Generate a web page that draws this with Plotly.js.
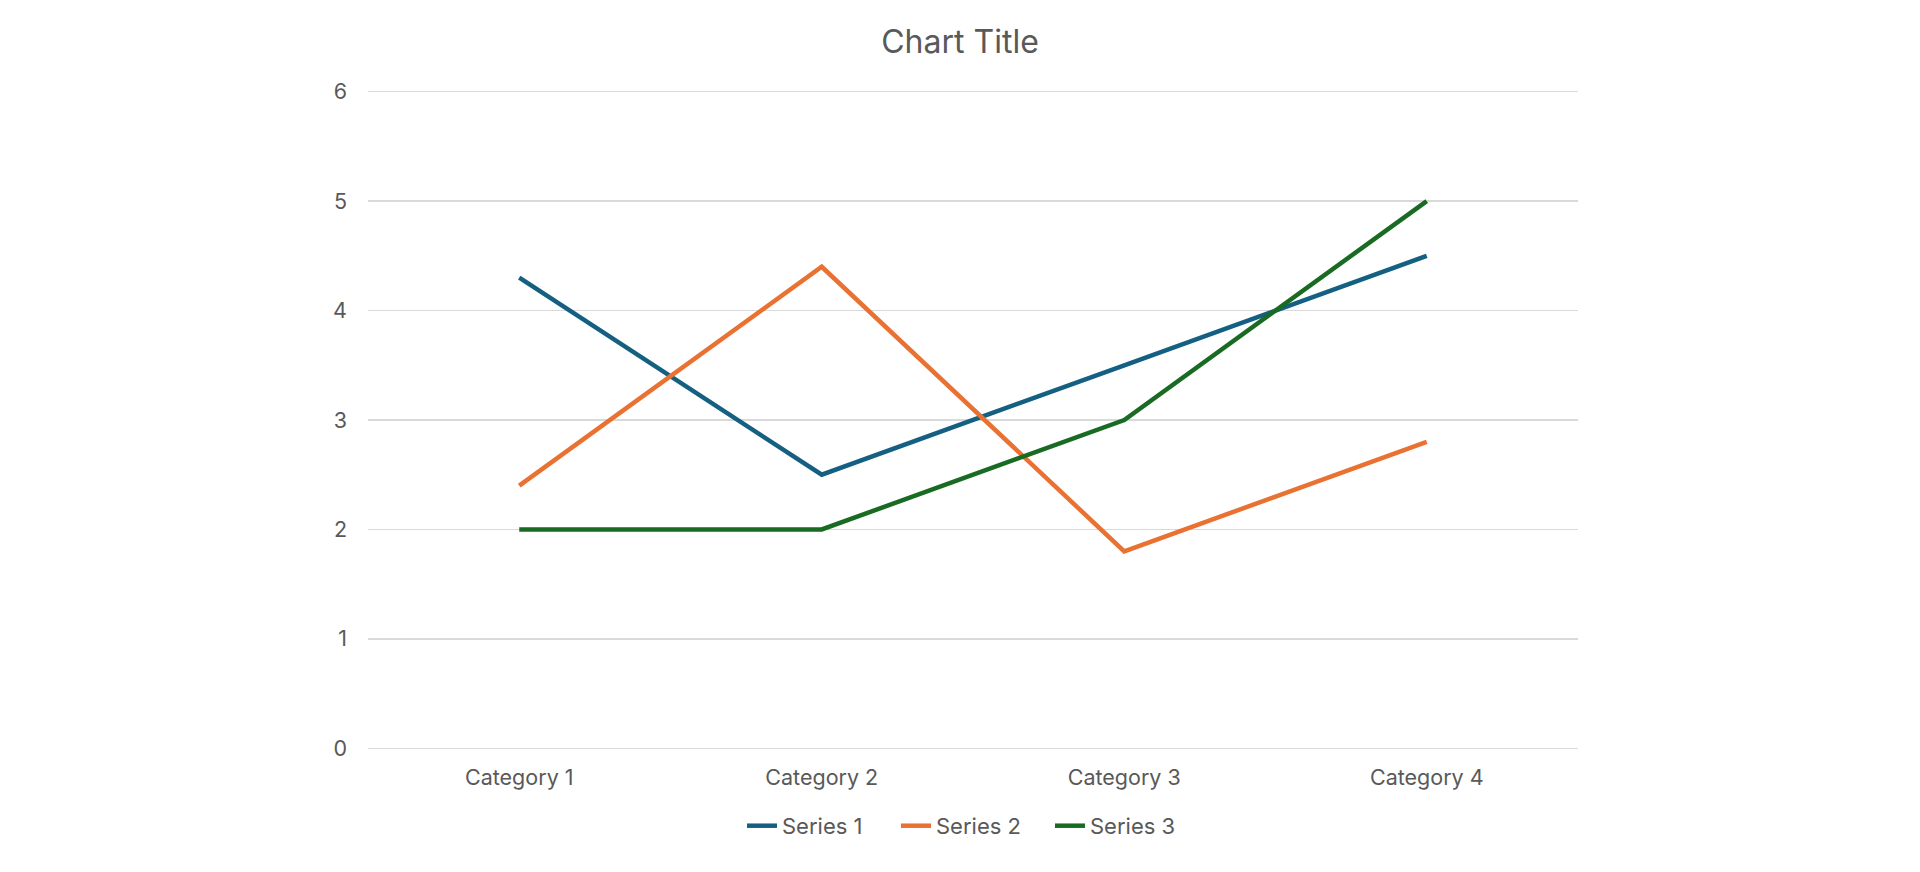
<!DOCTYPE html>
<html>
<head>
<meta charset="utf-8">
<script src="https://cdn.plot.ly/plotly-3.0.1.min.js"></script>
<style>html,body{margin:0;padding:0;background:#fff;}#chart{width:1920px;height:872px;}</style>
</head>
<body>
<div id="chart"></div>
<script>
const categories = ["Category 1", "Category 2", "Category 3", "Category 4"];
const seriesNames = ["Series 1", "Series 2", "Series 3"];
const series1 = [4.3, 2.5, 3.5, 4.5];
const series2 = [2.4, 4.4, 1.8, 2.8];
const series3 = [2, 2, 3, 5];
const yTicks = [0, 1, 2, 3, 4, 5, 6];

const colors = ["#156082", "#E97132", "#196B24"];
const allSeries = [series1, series2, series3];
const font = "Inter, 'Open Sans', sans-serif";

const traces = allSeries.map((vals, i) => ({
  type: "scatter",
  mode: "lines",
  x: categories,
  y: vals,
  name: seriesNames[i],
  line: {color: colors[i], width: 4.5},
  cliponaxis: false
}));

const layout = {
  width: 1920, height: 872,
  paper_bgcolor: "#fff", plot_bgcolor: "#fff",
  font: {family: font, color: "#595959", size: 21.5},
  title: {text: "Chart Title", font: {family: font, size: 32, color: "#595959"}, x: 0.5, xanchor: "center", y: 0.952, yanchor: "middle"},
  margin: {l: 368, r: 342, t: 90, b: 122},
  showlegend: true,
  legend: {orientation: "h", x: 0.5, xanchor: "center", y: -0.115, yanchor: "middle", font: {size: 22, color: "#595959"}, entrywidth: 109, entrywidthmode: "pixels", tracegroupgap: 0},
  xaxis: {type: "category", range: [-0.5, 3.5], showgrid: false, zeroline: false, showline: false, ticks: "", ticklabelstandoff: 12, fixedrange: true},
  yaxis: {range: [-0.015, 6.015], tickvals: yTicks, showgrid: true, gridcolor: "#D9D9D9", gridwidth: 1.5, zeroline: false, showline: false, ticks: "", ticklabelstandoff: 20, fixedrange: true}
};

Plotly.newPlot("chart", traces, layout, {displayModeBar: false, staticPlot: true});
</script>
</body>
</html>
